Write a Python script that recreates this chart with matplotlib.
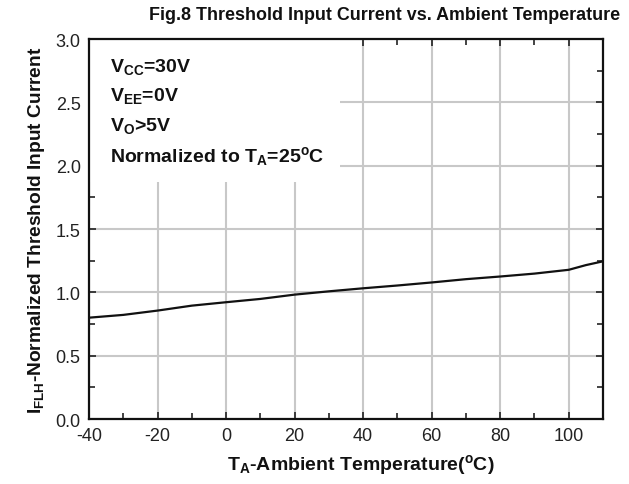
import matplotlib
matplotlib.use('Agg')
import matplotlib.pyplot as plt
from matplotlib.patches import Rectangle
from matplotlib.ticker import MultipleLocator

plt.rcParams['font.family'] = ['Liberation Sans', 'DejaVu Sans']
plt.rcParams['mathtext.fontset'] = 'custom'
plt.rcParams['mathtext.rm'] = 'Liberation Sans'
plt.rcParams['mathtext.it'] = 'Liberation Sans'
plt.rcParams['mathtext.bf'] = 'Liberation Sans:bold'

# datos
temp = [-40, -30, -20, -10, 0, 10, 20, 30, 40, 50, 60, 70, 80, 90, 100, 105, 110]
corriente = [0.80, 0.822, 0.856, 0.895, 0.922, 0.948, 0.982, 1.008, 1.032, 1.054,
             1.078, 1.104, 1.125, 1.148, 1.178, 1.215, 1.245]
xticks = [-40, -20, 0, 20, 40, 60, 80, 100]
yticks = [0.0, 0.5, 1.0, 1.5, 2.0, 2.5, 3.0]

fig = plt.figure(figsize=(6.29, 4.85), dpi=100)
ax = fig.add_axes([0.1415, 0.134, 0.9587 - 0.1415, 0.9175 - 0.134])

ax.plot(temp, corriente, '-', color='#111111', linewidth=1.6, zorder=3)

ax.set_xlim(-40, 110)
ax.set_ylim(0, 3.0)
ax.set_xticks(xticks)
ax.set_yticks(yticks)
ax.set_xticklabels([str(t) for t in xticks])
ax.set_yticklabels(['%.1f' % v for v in yticks])
ax.xaxis.set_minor_locator(MultipleLocator(10))
ax.yaxis.set_minor_locator(MultipleLocator(0.25))
ax.grid(True, which='major', color='#c8c8c8', linewidth=1.5)
ax.tick_params('both', which='both', direction='in', top=True, right=True,
               width=1.2, labelsize=13, colors='#222222')
ax.tick_params('both', which='major', length=5, pad=6)
ax.tick_params('both', which='minor', length=4)
for s in ax.spines.values():
    s.set_linewidth(1.6)
    s.set_color('#111111')

# recuadro blanco de las condiciones
ax.add_patch(Rectangle((0, 0.624), 0.488, 0.376, transform=ax.transAxes,
                       facecolor='white', edgecolor='none', zorder=1.6))
cond = [r'$\mathbf{V_{CC}}$=30V', r'$\mathbf{V_{EE}}$=0V', r'$\mathbf{V_{O}}$>5V',
        r'Normalized to $\mathbf{T_{A}}$=25$\mathbf{^{o}}$C']
for i, c in enumerate(cond):
    ax.text(0.04, 0.955 - i * 0.077, c, transform=ax.transAxes, fontsize=14,
            fontweight='bold', va='top', ha='left', zorder=4, color='#111111')

ax.set_xlabel(r'$\mathbf{T_{A}}$-Ambient Temperature($\mathbf{^{o}}$C)', fontsize=14,
              fontweight='bold', color='#111111')
ax.xaxis.set_label_coords(0.529, -0.087)
ax.set_ylabel(r'$\mathbf{I_{FLH}}$-Normalized Threshold Input Current', fontsize=13.8,
              fontweight='bold', labelpad=6, color='#111111')
fig.text(0.612, 0.985, 'Fig.8 Threshold Input Current vs. Ambient Temperature',
         ha='center', va='top', fontsize=12.9, fontweight='bold', color='#111111')

fig.savefig('out.png', dpi=100)
